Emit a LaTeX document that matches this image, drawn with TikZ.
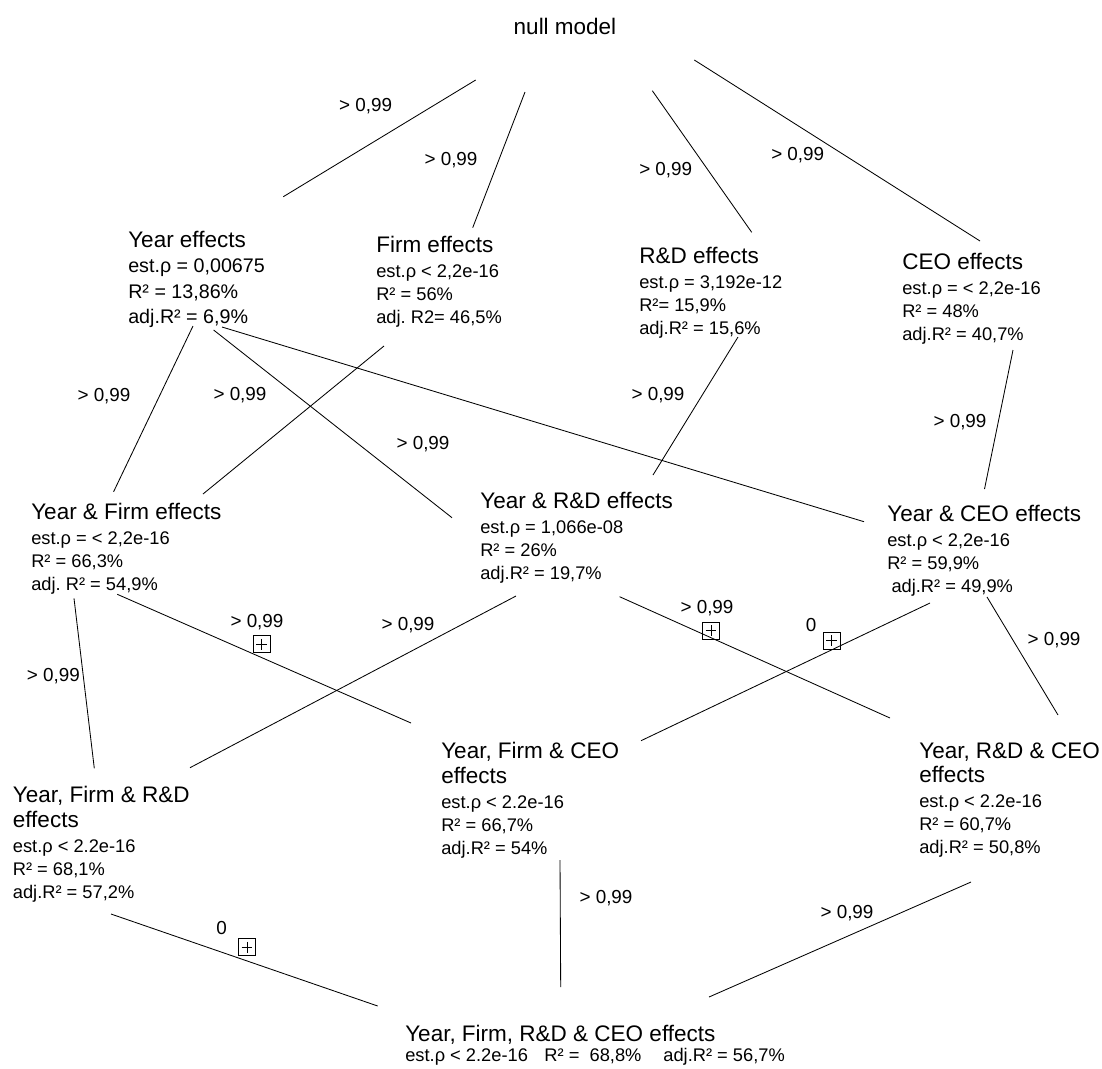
\documentclass[tikz,border=0pt]{standalone}
\usepackage{fontspec}
\setmainfont{Liberation Sans}
\usetikzlibrary{positioning}
\frenchspacing

\newcommand{\ttl}[1]{{\fontsize{16}{19}\selectfont #1}}
\newcommand{\pv}{> 0,99}

\tikzset{
    blk/.style={anchor=north west, inner sep=0pt, align=left, font=\fontsize{13}{16.5}\selectfont},
    plab/.style={inner sep=0pt, font=\fontsize{13.4}{15}\selectfont},
    edge/.style={line width=0.6pt},
    pbox/.style={draw, line width=0.8pt, minimum size=12pt, inner sep=0pt,
        path picture={
            \draw[line width=0.6pt] ([xshift=2.2pt]path picture bounding box.west) -- ([xshift=-2.2pt]path picture bounding box.east);
            \draw[line width=0.6pt] ([yshift=-2.2pt]path picture bounding box.north) -- ([yshift=2.2pt]path picture bounding box.south);
        }}
}

\begin{document}
\begin{tikzpicture}[x=0.025cm, y=-0.025cm]
    \useasboundingbox (0,0) rectangle (1102,1068);

    % Models
    \node[inner sep=0pt, font=\fontsize{16}{19}\selectfont] (nm) at (565,26) {null model};

    \node[blk, font=\fontsize{14}{18}\selectfont] (yr) at (128,231)
        {\ttl{Year effects}\\ est.ρ = 0,00675\\ R² = 13,86\%\\ adj.R² = 6,9\%};
    \node[blk] (fi) at (376,236)
        {\ttl{Firm effects}\\[1pt] est.ρ < 2,2e-16\\ R² = 56\%\\ adj. R2= 46,5\%};
    \node[blk] (rd) at (639,247)
        {\ttl{R\&D effects}\\[1pt] est.ρ = 3,192e-12\\ R²= 15,9\%\\ adj.R² = 15,6\%};
    \node[blk] (ce) at (902,253)
        {\ttl{CEO effects}\\[1pt] est.ρ = < 2,2e-16\\ R² = 48\%\\ adj.R² = 40,7\%};

    \node[blk] (yf) at (31,503)
        {\ttl{Year \& Firm effects}\\[1pt] est.ρ = < 2,2e-16\\ R² = 66,3\%\\ adj. R² = 54,9\%};
    \node[blk] (yd) at (480,492)
        {\ttl{Year \& R\&D effects}\\[1pt] est.ρ = 1,066e-08\\ R² = 26\%\\ adj.R² = 19,7\%};
    \node[blk] (yc) at (887,505)
        {\ttl{Year \& CEO effects}\\[1pt] est.ρ < 2,2e-16\\ R² = 59,9\%\\ \hspace*{3pt}adj.R² = 49,9\%};

    \node[blk] (yfd) at (12.6,786)
        {\ttl{Year, Firm \& R\&D}\\[1.2pt] \ttl{effects}\\[1pt] est.ρ < 2.2e-16\\ R² = 68,1\%\\ adj.R² = 57,2\%};
    \node[blk] (yfc) at (441,742)
        {\ttl{Year, Firm \& CEO}\\[1.2pt] \ttl{effects}\\[1pt] est.ρ < 2.2e-16\\ R² = 66,7\%\\ adj.R² = 54\%};
    \node[blk] (ydc) at (919,742)
        {\ttl{Year, R\&D \& CEO}\\[1.2pt] \ttl{effects}\\[1pt] est.ρ < 2.2e-16\\ R² = 60,7\%\\ adj.R² = 50,8\%};

    \node[blk] (all) at (405,1025)
        {\ttl{Year, Firm, R\&D \& CEO effects}\\[-2.5pt] est.ρ < 2.2e-16\hspace{0.9em}R² =\ \ 68,8\%\hspace{1.2em}adj.R² = 56,7\%};

    % Line ends
    \foreach \n/\x/\y in {
        nm-yr/475.7/80, yr-nm/283.3/196.7,
        nm-fi/525/92, fi-nm/472.7/227.7,
        nm-rd/652.3/90.7, rd-nm/751.7/232.3,
        nm-ce/694.3/60, ce-nm/980/241,
        yr-yf/193/326, yf-yr/113.6/491.7,
        yr-yd/213.6/330, yd-yr/452/517.7,
        yr-yc/222/327, yc-yr/864/521.7,
        fi-yf/384/346, yf-fi/203/494,
        rd-yd/738/337, yd-rd/653/475,
        ce-yc/1013/350, yc-ce/984.5/489,
        yf-yfd/74/598.3, yfd-yf/94.3/768.3,
        yf-yfc/117.3/594.3, yfc-yf/411/723,
        yd-yfd/516/596, yfd-yd/190/767.7,
        yd-ydc/619.6/596.7, ydc-yd/890/718,
        yc-yfc/930/603, yfc-yc/641/740.7,
        yc-ydc/987/597, ydc-yc/1058/715,
        yfd-all/111/914, all-yfd/377.7/1006,
        yfc-all/560/860, all-yfc/560.7/987,
        ydc-all/971/882, all-ydc/709/997}
        \coordinate (\n) at (\x,\y);

    % Connectors
    \foreach \a/\b in {nm/yr, nm/fi, nm/rd, nm/ce, yr/yf, yr/yd, yr/yc, fi/yf, rd/yd, ce/yc,
        yf/yfd, yf/yfc, yd/yfd, yd/ydc, yc/yfc, yc/ydc, yfd/all, yfc/all, ydc/all}
        \draw[edge] (\a-\b) -- (\b-\a);

    % Test values
    \foreach \n/\x/\y/\t in {
        nm-yr/365.7/106/\pv, nm-fi/451/160/\pv, nm-rd/665.7/170/\pv, nm-ce/797.7/155/\pv,
        yr-yf/104/396/\pv, yr-yd/240/395/\pv, yr-yc/423/444/\pv, rd-yd/658/395/\pv,
        ce-yc/960/422/\pv, yf-yfd/53.3/676/\pv, yf-yfc/257/622/\pv, yd-yfd/408/625/\pv,
        yd-ydc/707/608/\pv, yc-yfc/811/625/0, yc-ydc/1054/640/\pv,
        yfd-all/221.7/928.3/0, yfc-all/606/898/\pv, ydc-all/847/913/\pv}
        \node[plab] (p-\n) at (\x,\y) {\t};

    % Boxed marks
    \foreach \n/\x/\y in {yf-yfc/261.7/644.3, yd-ydc/711/630.7, yc-yfc/831.7/640.7, yfd-all/247/947.3}
        \node[pbox] (b-\n) at (\x,\y) {};
\end{tikzpicture}
\end{document}
